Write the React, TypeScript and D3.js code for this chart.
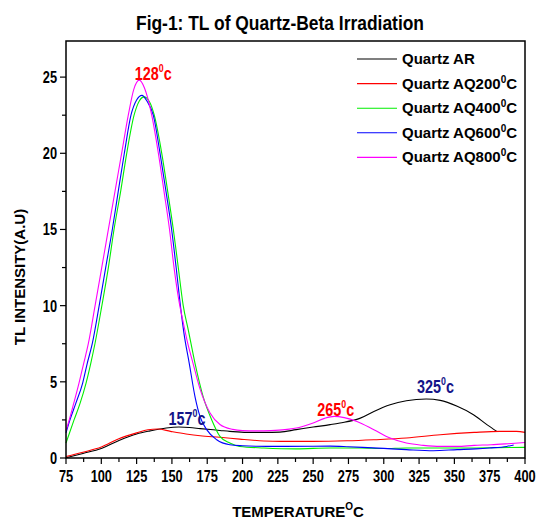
import React from "react";
import * as d3 from "d3";

// TL glow curves: [temperature °C, intensity a.u.]
const quartzAR: [number, number][] = [
  [75, 0.02], [87, 0.3], [100, 0.62], [112.5, 1.15], [125, 1.58], [134.5, 1.78], [146, 1.97], [155, 2.03],
  [162.5, 2.0], [170, 1.93], [184, 1.81], [191, 1.75], [203, 1.68], [215, 1.68], [226.5, 1.7],
  [238, 1.86], [250, 2.03], [262, 2.19], [269, 2.3], [283, 2.6], [293, 3.06], [304.5, 3.5],
  [316, 3.76], [330, 3.87], [340, 3.78], [352, 3.39], [363.5, 2.84], [373, 2.19], [380, 1.75],
];
const quartzAQ200: [number, number][] = [
  [75, 0.1], [87, 0.38], [100, 0.72], [112, 1.25], [125, 1.65], [133, 1.85], [140, 1.9], [149, 1.75],
  [160, 1.58], [170, 1.46], [184, 1.36], [198, 1.24], [215, 1.12], [227, 1.09], [250, 1.09],
  [274, 1.13], [293, 1.2], [316, 1.31], [340, 1.53], [364, 1.68], [382, 1.75], [394, 1.75], [400, 1.68],
];
const quartzAQ400: [number, number][] = [
  [75, 0.98], [80.7, 2.5], [85, 3.6], [89.2, 4.92], [92.5, 6.2], [95.5, 7.5], [100.3, 9.95], [105, 12.5],
  [109, 15], [113.7, 17.5], [118, 20], [123.2, 22.5], [127, 23.45], [130.2, 23.7], [134, 23.4],
  [137.5, 22.5], [142.8, 20], [147, 17.5], [151, 15], [154.5, 12.5], [158, 10], [161.6, 8.4],
  [166.4, 6.2], [172.2, 4.0], [178.2, 2.5], [184, 1.42], [191, 0.98], [198, 0.76],
  [215, 0.66], [238, 0.6], [262, 0.66], [283, 0.66], [300, 0.62], [316, 0.66], [340, 0.66],
  [360, 0.66], [380, 0.68], [400, 0.7],
];
const quartzAQ600: [number, number][] = [
  [75, 1.65], [77.8, 2.5], [82, 3.6], [86.8, 4.92], [90, 6.2], [93.6, 7.5], [98.4, 9.95], [103.1, 12.5],
  [107.8, 15], [112, 17.5], [116.3, 20], [121, 22.5], [125, 23.5], [128.8, 23.8], [132.5, 23.4],
  [136.8, 22.5], [141.6, 20], [145.8, 17.5], [149.8, 15], [153, 12.5], [156, 10], [158.5, 8.2],
  [162.3, 6.2], [166.4, 4.0], [170, 2.7], [174.6, 1.86], [181.7, 1.2], [191, 0.87], [200, 0.8],
  [210, 0.77], [230, 0.76], [250, 0.77], [262, 0.78], [275, 0.74], [285, 0.7], [300, 0.63],
  [316, 0.55], [335, 0.48], [352, 0.55], [365, 0.6], [375, 0.66], [387, 0.76], [392, 0.85],
];
const quartzAQ800: [number, number][] = [
  [75, 1.8], [77.3, 2.5], [80.5, 3.6], [84.2, 4.92], [87.5, 6.2], [90.8, 7.5], [95.5, 9.95], [100.3, 12.5],
  [105, 15], [109.7, 17.5], [114.4, 20], [119.1, 22.5], [123, 24.2], [126.9, 24.8], [130.5, 24.3],
  [135.7, 22.5], [140.4, 20], [144.4, 17.5], [148.3, 15], [151.5, 12.5], [155, 10.3], [158, 8.9],
  [161, 7.6], [165, 6.2], [170, 4.5], [177, 2.95], [184, 2.2], [193, 1.88], [200, 1.8],
  [210, 1.78], [220, 1.8], [230, 1.86], [240, 2.0], [250, 2.3], [258, 2.6], [265, 2.73], [272, 2.65],
  [281, 2.4], [293, 1.86], [304.5, 1.31], [316, 0.98], [328, 0.83], [340, 0.76], [352, 0.76],
  [364, 0.83], [376, 0.87], [388, 0.94], [400, 1.02],
];

const seriesNames = ["Quartz AR", "Quartz AQ200", "Quartz AQ400", "Quartz AQ600", "Quartz AQ800"];
const seriesColors = ["#000000", "#ff0000", "#00ee00", "#0000ff", "#ff00ff"];
const seriesData = [quartzAR, quartzAQ200, quartzAQ400, quartzAQ600, quartzAQ800];

const xTicks = [75, 100, 125, 150, 175, 200, 225, 250, 275, 300, 325, 350, 375, 400];
const yTicks = [0, 5, 10, 15, 20, 25];

// peak labels: temperature text, colour, position (T, intensity)
const peakLabels = [
  { text: "128", color: "#ff0000", t: 136.8, v: 24.8 },
  { text: "157", color: "#141488", t: 160.7, v: 2.18 },
  { text: "265", color: "#ff0000", t: 266, v: 2.78 },
  { text: "325", color: "#141488", t: 336.6, v: 4.26 },
];

const FONT = "'Liberation Sans', Arial, sans-serif";
const NARROW = 0.8; // the original uses a condensed bold face

export default function App() {
  const width = 541;
  const height = 522;
  const plot = { left: 66, right: 525, top: 41, bottom: 458 };

  const x = d3.scaleLinear().domain([75, 400]).range([plot.left, plot.right]);
  const y = d3.scaleLinear().domain([0, 27.37]).range([plot.bottom, plot.top]);

  const line = d3
    .line<[number, number]>()
    .x((d) => x(d[0]))
    .y((d) => y(d[1]))
    .curve(d3.curveMonotoneX);

  const xMinor = d3.range(75, 400.1, 12.5);
  const yMinor = d3.range(0, 27.4, 2.5);

  return (
    <svg
      width={width}
      height={height}
      style={{ position: "absolute", left: 0, top: 0, background: "#fff" }}
      fontFamily={FONT}
      fontWeight="bold"
    >
      <text transform={`translate(280,30) scale(0.83,1)`} textAnchor="middle" fontSize={21}>
        Fig-1: TL of Quartz-Beta Irradiation
      </text>

      {/* data lines */}
      <g fill="none" strokeWidth={1.1}>
        {seriesData.map((d, i) => (
          <path key={i} d={line(d) ?? ""} stroke={seriesColors[i]} />
        ))}
      </g>

      {/* frame */}
      <rect
        x={plot.left}
        y={plot.top}
        width={plot.right - plot.left}
        height={plot.bottom - plot.top}
        fill="none"
        stroke="#000"
        strokeWidth={1.5}
      />

      {/* ticks */}
      <g stroke="#000" strokeWidth={1.2}>
        {xMinor.map((t) => (
          <line key={t} x1={x(t)} x2={x(t)} y1={plot.bottom} y2={plot.bottom + (t % 25 === 0 ? 6 : 4)} />
        ))}
        {yMinor.map((v) => (
          <line key={v} x1={plot.left} x2={plot.left - (v % 5 === 0 ? 6 : 4)} y1={y(v)} y2={y(v)} />
        ))}
      </g>
      <g fontSize={16} textAnchor="middle">
        {xTicks.map((t) => (
          <text key={t} transform={`translate(${x(t)},${plot.bottom + 24}) scale(${NARROW},1)`}>
            {t}
          </text>
        ))}
      </g>
      <g fontSize={16} textAnchor="end">
        {yTicks.map((v) => (
          <text key={v} transform={`translate(${plot.left - 9},${y(v) + 6}) scale(${NARROW},1)`}>
            {v}
          </text>
        ))}
      </g>

      <text x={298} y={517} textAnchor="middle" fontSize={15}>
        TEMPERATURE
        <tspan fontSize={10} dy={-7}>O</tspan>
        <tspan dy={7}>C</tspan>
      </text>
      <text transform="translate(25,277) rotate(-90)" textAnchor="middle" fontSize={15}>
        TL INTENSITY(A.U)
      </text>

      {/* peak labels */}
      {peakLabels.map((p) => (
        <text
          key={p.text}
          transform={`translate(${x(p.t)},${y(p.v)}) scale(0.8,1)`}
          fill={p.color}
          fontSize={18}
          textAnchor="middle"
        >
          {p.text}
          <tspan fontSize={11} dy={-8}>0</tspan>
          <tspan dy={8}>c</tspan>
        </text>
      ))}

      {/* legend */}
      <g fontSize={15}>
        {seriesNames.map((n, i) => {
          const ly = 59 + i * 24.6;
          return (
            <g key={n}>
              <line x1={357} x2={397} y1={ly} y2={ly} stroke={seriesColors[i]} strokeWidth={1.1} />
              <text x={402} y={ly + 5}>
                {n}
                {i > 0 && (
                  <>
                    <tspan fontSize={10} dy={-6}>0</tspan>
                    <tspan dy={6}>C</tspan>
                  </>
                )}
              </text>
            </g>
          );
        })}
      </g>
    </svg>
  );
}
